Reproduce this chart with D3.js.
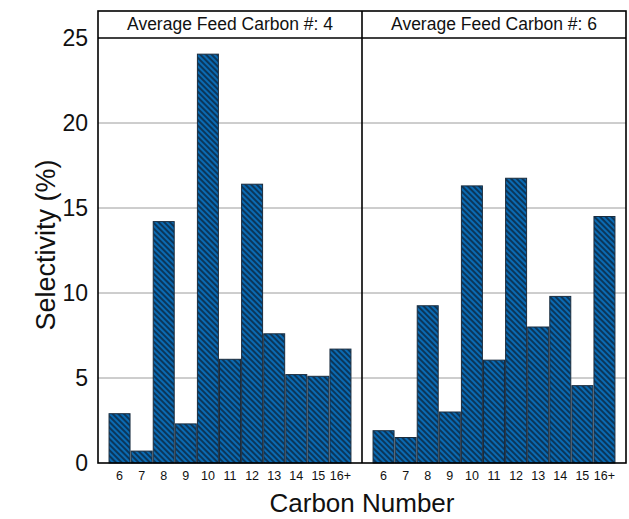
<!DOCTYPE html>
<html>
<head>
<meta charset="utf-8">
<script src="https://cdn.jsdelivr.net/npm/d3@7/dist/d3.min.js"></script>
<style>
  html, body { margin: 0; padding: 0; background: #fff; }
  svg { display: block; font-family: Arial, "Liberation Sans", sans-serif; }
</style>
</head>
<body>
<svg id="chart" width="629" height="519"></svg>
<script>
// Carbon numbers on the x axis (shared by both panels)
const carbonNumbers = ["6", "7", "8", "9", "10", "11", "12", "13", "14", "15", "16+"];

// Selectivity (%) for each feed
const feedC4 = [2.9, 0.7, 14.2, 2.3, 24.05, 6.1, 16.4, 7.6, 5.2, 5.1, 6.7];
const feedC6 = [1.9, 1.5, 9.25, 3.0, 16.3, 6.05, 16.75, 8.0, 9.8, 4.55, 14.5];

const panelTitles = ["Average Feed Carbon #: 4", "Average Feed Carbon #: 6"];
const yTicks = [0, 5, 10, 15, 20, 25];

const panels = [feedC4, feedC6];

const svg = d3.select("#chart");
const plotL = 98, plotR = 626, plotT = 11, plotB = 463;
const panelW = (plotR - plotL) / panels.length;

const y = d3.scaleLinear().domain([0, 25]).range([plotB, 38]);

// diagonal hatch on blue
const defs = svg.append("defs");
const hs = 4.0;
const pat = defs.append("pattern")
  .attr("id", "hatch")
  .attr("patternUnits", "userSpaceOnUse")
  .attr("width", hs).attr("height", hs)
  .attr("patternTransform", "rotate(45)");
pat.append("rect").attr("width", hs).attr("height", hs).attr("fill", "#0b6ab2");
pat.append("line").attr("x1", 0).attr("y1", 1).attr("x2", hs).attr("y2", 1)
  .attr("stroke", "#0a0e18").attr("stroke-width", 1.15);

// gridlines
svg.append("g").selectAll("line")
  .data(yTicks.filter(d => d > 0 && d < 25))
  .join("line")
  .attr("x1", plotL).attr("x2", plotR)
  .attr("y1", d => y(d)).attr("y2", d => y(d))
  .attr("stroke", "#9c9c9c").attr("stroke-width", 1);

panels.forEach((vals, i) => {
  const x0 = plotL + i * panelW;
  const x = d3.scaleBand().domain(carbonNumbers)
    .range([x0, x0 + panelW]).paddingInner(0.05).paddingOuter(0.5);
  const g = svg.append("g");
  g.selectAll("rect")
    .data(carbonNumbers.map((c, j) => ({ c, v: vals[j] })))
    .join("rect")
    .attr("x", d => x(d.c)).attr("width", x.bandwidth())
    .attr("y", d => y(d.v)).attr("height", d => plotB - y(d.v))
    .attr("fill", "url(#hatch)")
    .attr("stroke", "#1a2c3e").attr("stroke-width", 1);

  // category labels
  g.selectAll("text.cat")
    .data(carbonNumbers)
    .join("text")
    .attr("class", "cat")
    .attr("x", d => x(d) + x.bandwidth() / 2)
    .attr("y", 480)
    .attr("text-anchor", "middle")
    .attr("font-size", 12.5)
    .attr("fill", "#111")
    .text(d => d);

  // panel strip title
  svg.append("text")
    .attr("x", x0 + panelW / 2).attr("y", 30)
    .attr("text-anchor", "middle")
    .attr("font-size", 17.5)
    .attr("fill", "#111")
    .text(panelTitles[i]);
});

// frame, strip line and panel divider
svg.append("rect")
  .attr("x", plotL).attr("y", plotT).attr("width", plotR - plotL).attr("height", plotB - plotT)
  .attr("fill", "none").attr("stroke", "#000").attr("stroke-width", 1.6);
svg.append("line")
  .attr("x1", plotL).attr("x2", plotR).attr("y1", y(25)).attr("y2", y(25))
  .attr("stroke", "#000").attr("stroke-width", 1.6);
svg.append("line")
  .attr("x1", plotL + panelW).attr("x2", plotL + panelW).attr("y1", plotT).attr("y2", plotB)
  .attr("stroke", "#000").attr("stroke-width", 1.6);

// y axis labels
svg.append("g").selectAll("text")
  .data(yTicks)
  .join("text")
  .attr("x", 88).attr("y", d => y(d))
  .attr("dy", "0.35em")
  .attr("text-anchor", "end")
  .attr("font-size", 23)
  .attr("fill", "#111")
  .text(d => d);

// axis titles
svg.append("text")
  .attr("transform", `translate(55,${(plotT + plotB) / 2 + 8}) rotate(-90)`)
  .attr("text-anchor", "middle")
  .attr("font-size", 27)
  .attr("fill", "#111")
  .text("Selectivity (%)");

svg.append("text")
  .attr("x", (plotL + plotR) / 2).attr("y", 512)
  .attr("text-anchor", "middle")
  .attr("font-size", 26)
  .attr("fill", "#111")
  .text("Carbon Number");
</script>
</body>
</html>
